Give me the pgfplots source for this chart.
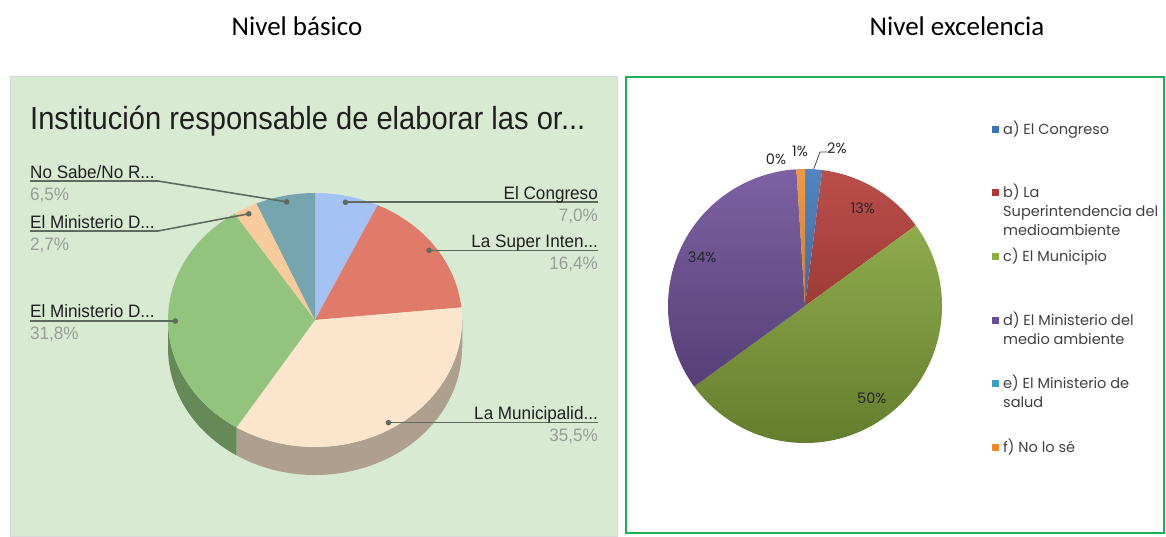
\documentclass[border=0pt]{standalone}
\usepackage{pgfplots}
\pgfplotsset{compat=1.18}
\usepackage{pgfplotstable}
\usepackage{fontspec}
\setmainfont{Liberation Sans}
\newfontfamily\calibri{Carlito}
\newfontfamily\gothic{Poppins}

% left pie (Google style)
\definecolor{bgL}{HTML}{D9EAD3}
\definecolor{L0}{HTML}{A4C2F4}
\definecolor{L1}{HTML}{E07B6A}
\definecolor{L2}{HTML}{FCE5CD}
\definecolor{L3}{HTML}{93C47D}
\definecolor{L4}{HTML}{F9CB9C}
\definecolor{L5}{HTML}{76A5AF}
\definecolor{LS0}{HTML}{7C93B8}
\definecolor{LS1}{HTML}{A85C50}
\definecolor{LS2}{HTML}{AE9F8E}
\definecolor{LS3}{HTML}{668A57}
\definecolor{LS4}{HTML}{B8987A}
\definecolor{LS5}{HTML}{587C84}
\definecolor{lead}{HTML}{5E6A5E}
\definecolor{pctgray}{HTML}{979E95}
% right pie (Office style)
\definecolor{R0}{HTML}{3A74B8}
\definecolor{R1}{HTML}{B23632}
\definecolor{R2}{HTML}{8CAE3E}
\definecolor{R3}{HTML}{6A4C96}
\definecolor{R4}{HTML}{3AA2BE}
\definecolor{R5}{HTML}{EE8A2A}
\definecolor{frameg}{HTML}{1DB255}
\definecolor{txt}{HTML}{404040}

\pgfkeys{/pgf/number format/assume math mode=true}

\pgfplotstableread[col sep=comma]{
name,pct
El Congreso,7.0
La Super Inten...,16.4
La Municipalid...,35.5
El Ministerio D...,31.8
El Ministerio D...,2.7
No Sabe/No R...,6.5
}\basico

\pgfplotstableread[col sep=comma]{
name,pct
a) El Congreso,2
b) La Superintendencia del medioambiente,13
c) El Municipio,50
d) El Ministerio del medio ambiente,34
e) El Ministerio de salud,0
f) No lo sé,1
}\excelencia

% cumulative angles (clockwise from 12 o'clock)
\newcommand\piecum[2]{%
  \pgfplotstablegetrowsof{#1}%
  \pgfmathtruncatemacro\nlast{\pgfplotsretval-1}%
  \gdef\pietot{0}%
  \foreach \i in {0,...,\nlast}{%
    \pgfplotstablegetelem{\i}{pct}\of{#1}%
    \pgfmathsetmacro\tmp{\pietot+\pgfplotsretval}%
    \xdef\pietot{\tmp}}%
  \pgfmathsetmacro\degper{360/\pietot}%
  \gdef\piecur{0}%
  \foreach \i in {0,...,\nlast}{%
    \pgfplotstablegetelem{\i}{name}\of{#1}%
    \expandafter\xdef\csname #2n\i\endcsname{\pgfplotsretval}%
    \pgfplotstablegetelem{\i}{pct}\of{#1}%
    \let\pcv\pgfplotsretval
    \expandafter\xdef\csname #2v\i\endcsname{\pcv}%
    \pgfmathsetmacro\ta{\degper*\piecur}%
    \pgfmathsetmacro\tmp{\piecur+\pcv}%
    \xdef\piecur{\tmp}%
    \pgfmathsetmacro\tb{\degper*\piecur}%
    \pgfmathsetmacro\tm{(\ta+\tb)/2}%
    \pgfmathsetmacro\sa{max(\ta,90)}%
    \pgfmathsetmacro\sb{max(min(\tb,270),\sa)}%
    \expandafter\xdef\csname #2a\i\endcsname{\ta}%
    \expandafter\xdef\csname #2b\i\endcsname{\tb}%
    \expandafter\xdef\csname #2m\i\endcsname{\tm}%
    \expandafter\xdef\csname #2sa\i\endcsname{\sa}%
    \expandafter\xdef\csname #2sb\i\endcsname{\sb}%
  }%
}

\newcommand\lfont{\fontsize{18bp}{20bp}\selectfont}
\newcommand\gfont{\gothic\fontsize{14.5bp}{19bp}\selectfont}
\tikzset{leg/.style={anchor=base west, inner sep=0, font=\gfont, text=txt}}

\begin{document}
\begin{tikzpicture}
\piecum{\basico}{L}
\piecum{\excelencia}{R}
\begin{axis}[
  scale only axis, width=1166bp, height=535bp,
  xmin=0, xmax=1166, ymin=0, ymax=535, y dir=reverse,
  hide axis, clip=false,
]
\fill[white] (axis cs:0,0) rectangle (axis cs:1166,535);

% panel titles
\node[anchor=base, font=\calibri\fontsize{27bp}{30bp}\selectfont] at (axis cs:297,36) {Nivel básico};
\node[anchor=base, font=\calibri\fontsize{27bp}{30bp}\selectfont] at (axis cs:957,36) {Nivel excelencia};

% ---------------- left panel ----------------
\fill[bgL, draw=black!15, line width=1bp] (axis cs:10,77) rectangle (axis cs:617,536);
\node[anchor=base west, inner sep=0, text=black!88, font=\fontsize{32bp}{34bp}\selectfont]
  at (axis cs:30,129) {\scalebox{0.91}[1]{Institución responsable de elaborar las or...}};

\pgfplotsinvokeforeach{0,...,5}{
  \fill[LS#1] (axis cs:315,320) ++({90-\csname Lsa#1\endcsname}:147bp and 127bp)
    arc[start angle={90-\csname Lsa#1\endcsname}, end angle={90-\csname Lsb#1\endcsname}, x radius=147bp, y radius=127bp]
    -- ++(0,-28bp)
    arc[start angle={90-\csname Lsb#1\endcsname}, end angle={90-\csname Lsa#1\endcsname}, x radius=147bp, y radius=127bp]
    -- cycle;
}
\pgfplotsinvokeforeach{0,...,5}{
  \fill[L#1] (axis cs:315,320) -- ++({90-\csname La#1\endcsname}:147bp and 127bp)
    arc[start angle={90-\csname La#1\endcsname}, end angle={90-\csname Lb#1\endcsname}, x radius=147bp, y radius=127bp]
    -- cycle;
  \coordinate (LP#1) at (axis cs:{315+139.65*sin(\csname Lm#1\endcsname)},{320-120.65*cos(\csname Lm#1\endcsname)});
}
\coordinate (Rx) at (axis cs:598,0);
\coordinate (Lx) at (axis cs:30,0);

% labels on the right side
\pgfplotsinvokeforeach{0,1,2}{
  \draw[lead, line width=1.6bp] (LP#1) -- (LP#1 -| Rx);
  \fill[lead] (LP#1) circle[radius=2.8bp];
  \node[anchor=base east, inner sep=0, yshift=3bp, text=black!88, font=\lfont] at (LP#1 -| Rx)
    {\scalebox{0.95}[1]{\csname Ln#1\endcsname}};
  \node[anchor=base east, inner sep=0, yshift=-19bp, text=pctgray, font=\lfont] at (LP#1 -| Rx)
    {\scalebox{0.95}[1]{\pgfmathprintnumber[fixed, fixed zerofill, precision=1, use comma]{\csname Lv#1\endcsname}\%}};
}
% labels on the left side
\draw[lead, line width=1.6bp] (LP3) -- (LP3 -| Lx);
\draw[lead, line width=1.6bp] (axis cs:30,231) -- (axis cs:158,231) -- (LP4);
\draw[lead, line width=1.6bp] (axis cs:30,181) -- (axis cs:158,181) -- (LP5);
\coordinate (K3) at (LP3 -| Lx);
\coordinate (K4) at (axis cs:30,231);
\coordinate (K5) at (axis cs:30,181);
\pgfplotsinvokeforeach{3,4,5}{
  \fill[lead] (LP#1) circle[radius=2.8bp];
  \node[anchor=base west, inner sep=0, yshift=3bp, text=black!88, font=\lfont] at (K#1)
    {\scalebox{0.95}[1]{\csname Ln#1\endcsname}};
  \node[anchor=base west, inner sep=0, yshift=-19bp, text=pctgray, font=\lfont] at (K#1)
    {\scalebox{0.95}[1]{\pgfmathprintnumber[fixed, fixed zerofill, precision=1, use comma]{\csname Lv#1\endcsname}\%}};
}

% ---------------- right panel ----------------
\draw[frameg, line width=2bp] (axis cs:626,77) rectangle (axis cs:1164,533);

\pgfplotsinvokeforeach{0,...,5}{
  \pgfplotsextra{
    \begin{scope}
      \clip (axis cs:805,306) -- ++({90-\csname Ra#1\endcsname}:137bp)
        arc[start angle={90-\csname Ra#1\endcsname}, end angle={90-\csname Rb#1\endcsname}, radius=137bp]
        -- cycle;
      \shade[top color=R#1!88!white, bottom color=R#1!72!black]
        (axis cs:667,169) rectangle (axis cs:943,443);
    \end{scope}
  }
}
% inner data labels
\pgfplotsinvokeforeach{1,2,3}{
  \node[font=\gfont, text=black!85, inner sep=0]
    at (axis cs:{805+113.7*sin(\csname Rm#1\endcsname)},{306-113.7*cos(\csname Rm#1\endcsname)})
    {\pgfmathprintnumber[fixed, precision=0]{\csname Rv#1\endcsname}\%};
}
% outer data labels of the thin slices
\draw[black!70, line width=0.8bp]
  (axis cs:{805+137*sin(\csname Rm0\endcsname)},{306-137*cos(\csname Rm0\endcsname)})
  -- (axis cs:820,152) -- (axis cs:827,152);
\node[font=\gfont, text=black!85, inner sep=0, anchor=west] at (axis cs:827,148)
  {\pgfmathprintnumber[fixed, precision=0]{\csname Rv0\endcsname}\%};
\node[font=\gfont, text=black!85, inner sep=0] at (axis cs:800,151)
  {\pgfmathprintnumber[fixed, precision=0]{\csname Rv5\endcsname}\%};
\node[font=\gfont, text=black!85, inner sep=0] at (axis cs:776,159)
  {\pgfmathprintnumber[fixed, precision=0]{\csname Rv4\endcsname}\%};

% legend
\fill[R0] (axis cs:992,126) rectangle (axis cs:999,133);
\node[leg] at (axis cs:1003,134) {a) El Congreso};
\fill[R1] (axis cs:992,189) rectangle (axis cs:999,196);
\node[leg] at (axis cs:1003,197) {b) La};
\node[leg] at (axis cs:1003,216) {Superintendencia del};
\node[leg] at (axis cs:1003,235) {medioambiente};
\fill[R2] (axis cs:992,253) rectangle (axis cs:999,260);
\node[leg] at (axis cs:1003,261) {c) El Municipio};
\fill[R3] (axis cs:992,317) rectangle (axis cs:999,324);
\node[leg] at (axis cs:1003,325) {d) El Ministerio del};
\node[leg] at (axis cs:1003,344) {medio ambiente};
\fill[R4] (axis cs:992,380) rectangle (axis cs:999,387);
\node[leg] at (axis cs:1003,388) {e) El Ministerio de};
\node[leg] at (axis cs:1003,407) {salud};
\fill[R5] (axis cs:992,444) rectangle (axis cs:999,451);
\node[leg] at (axis cs:1003,452) {f) No lo sé};
\end{axis}
\end{tikzpicture}
\end{document}
